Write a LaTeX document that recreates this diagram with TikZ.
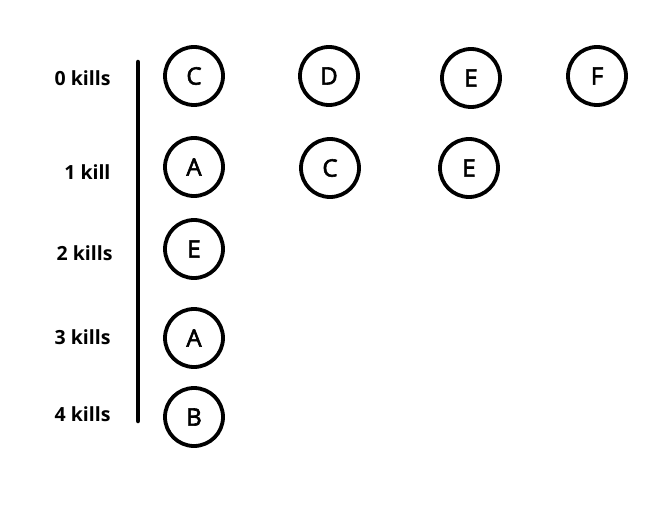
\documentclass[tikz,border=0pt]{standalone}
\usepackage{fontspec}
\setmainfont{Open Sans}
\newfontfamily\letterfont[FakeBold=2.5]{Open Sans}
\usetikzlibrary{positioning}

\begin{document}
\begin{tikzpicture}[x=1pt,y=-1pt,
  kill/.style={draw,circle,line width=3.8pt,minimum size=58pt,inner sep=0pt,font=\letterfont\fontsize{24}{27}\selectfont},
  lvl/.style={anchor=east,font=\fontsize{19.5}{22}\selectfont\bfseries}]
  \useasboundingbox (0,0) rectangle (663,505);
  % axis
  \coordinate (top) at (138,62);
  \coordinate (bot) at (138,421);
  \draw[line width=4.5pt,line cap=round] (top) -- (bot);
  % levels
  \node[lvl] (l0) at (114,78) {0 kills};
  \node[lvl] (l1) at (114,172) {1 kill};
  \node[lvl] (l2) at (116,253) {2 kills};
  \node[lvl] (l3) at (114,337) {3 kills};
  \node[lvl] (l4) at (114,414) {4 kills};
  % row 0
  \node[kill] (c0) at (194,76) {C};
  \node[kill] (d0) at (329,76) {D};
  \node[kill] (e0) at (471,78) {E};
  \node[kill] (f0) at (597,76) {F};
  % row 1
  \node[kill] (a1) at (194,167) {A};
  \node[kill] (c1) at (330,168) {C};
  \node[kill] (e1) at (469,168) {E};
  % rows 2-4
  \node[kill] (e2) at (194,249) {E};
  \node[kill] (a3) at (194,338) {A};
  \node[kill] (b4) at (194,417) {B};
\end{tikzpicture}
\end{document}
